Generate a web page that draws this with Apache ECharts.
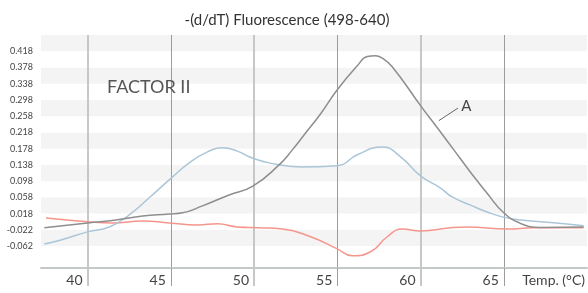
<!DOCTYPE html>
<html lang="en">
<head>
    <meta charset="UTF-8">
    <title>-(d/dT) Fluorescence (498-640)</title>
    <script src="https://cdn.jsdelivr.net/npm/echarts@6/dist/echarts.min.js"></script>
    <style>
        html, body { margin: 0; padding: 0; background: #fff; }
        #chart { width: 588px; height: 293px; }
    </style>
</head>
<body>
    <div id="chart"></div>
    <script>
        // melt curve data: [temperature, -(d/dT) fluorescence]
        const curveA = [
            [37.4, -0.017], [40.0, -0.005], [41.7, 0.002], [43.3, 0.012], [44.9, 0.017],
            [45.7, 0.020], [46.9, 0.037], [48.5, 0.064], [49.9, 0.085], [51.5, 0.138],
            [52.3, 0.175], [53.2, 0.222], [54.0, 0.264], [55.0, 0.323], [56.2, 0.382],
            [56.8, 0.405], [57.3, 0.407], [57.7, 0.401], [58.3, 0.380], [60.0, 0.284],
            [61.2, 0.219], [62.0, 0.175], [63.0, 0.120], [64.0, 0.068], [65.0, 0.020],
            [66.0, -0.006], [67.2, -0.016], [69.8, -0.015]
        ];
        const curveBlue = [
            [37.4, -0.057], [38.4, -0.047], [40.0, -0.027], [41.3, -0.015], [42.5, 0.015],
            [43.7, 0.057], [44.9, 0.101], [46.1, 0.143], [47.2, 0.170], [48.1, 0.180],
            [49.0, 0.172], [49.7, 0.158], [50.9, 0.143], [52.8, 0.133], [55.0, 0.136],
            [56.2, 0.163], [57.7, 0.182], [58.8, 0.158], [60.0, 0.111], [61.2, 0.081],
            [61.9, 0.059], [63.0, 0.039], [64.0, 0.022], [64.9, 0.010], [66.0, 0.002],
            [67.8, -0.004], [69.8, -0.012]
        ];
        const curveRed = [
            [37.5, 0.007], [40.0, -0.002], [41.5, -0.005], [43.3, 0.000], [44.9, -0.005],
            [46.6, -0.010], [47.8, -0.007], [49.0, -0.015], [50.3, -0.017], [51.7, -0.020],
            [53.4, -0.039], [55.0, -0.069], [55.9, -0.086], [57.0, -0.076], [58.0, -0.039],
            [58.9, -0.020], [60.0, -0.025], [61.8, -0.017], [62.8, -0.015], [65.2, -0.020],
            [66.8, -0.017], [69.8, -0.017]
        ];

        const xLabels = [40, 45, 50, 55, 60, 65];
        const xLightLines = [40, 50, 60];
        const xDarkLines = [45, 55, 65];
        const yLabels = [-0.062, -0.022, 0.018, 0.058, 0.098, 0.138, 0.178, 0.218,
                         0.258, 0.298, 0.338, 0.378, 0.418];
        const yBands = [-0.116].concat(yLabels, [0.458]);
        const xMin = 37.2, xMax = 70;
        const yMin = -0.116, yMax = 0.458;

        // leader line for the "A" label
        const leaderA = [[61.1, 0.247], [62.25, 0.278]];

        const chart = echarts.init(document.getElementById('chart'));
        const font = 'Lato, sans-serif';

        const option = {
            animation: false,
            textStyle: { fontFamily: font },
            grid: { left: 41, right: 1, top: 35, bottom: 25 },
            xAxis: [
                {
                    type: 'value', min: xMin, max: xMax, position: 'bottom',
                    axisLine: { show: true, onZero: false, lineStyle: { color: '#c4c8c8', width: 2 } },
                    axisTick: { show: true, customValues: xLightLines, length: 18,
                                lineStyle: { color: '#c4c8c8', width: 2 } },
                    splitLine: { show: true, lineStyle: { color: '#c4c8c8', width: 2 } },
                    axisLabel: { customValues: xLabels, align: 'right', margin: 5,
                                 padding: [0, 5, 0, 0],
                                 color: '#444', fontSize: 14, fontFamily: font }
                },
                {
                    type: 'value', min: xMin, max: xMax, position: 'bottom',
                    axisLine: { show: false, onZero: false },
                    axisTick: { show: true, customValues: xDarkLines, length: 18,
                                lineStyle: { color: '#9c9c9c', width: 1 } },
                    splitLine: { show: true, lineStyle: { color: '#9c9c9c', width: 1 } },
                    axisLabel: { show: false }
                }
            ],
            yAxis: {
                type: 'value', min: yMin, max: yMax,
                axisLine: { show: false },
                axisTick: { show: false, customValues: yBands },
                splitLine: { show: false },
                splitArea: { show: true, areaStyle: { color: ['#ffffff', '#f4f4f4'] } },
                axisLabel: { customValues: yLabels, margin: 8, color: '#444',
                             fontSize: 9, fontFamily: font }
            },
            series: [
                {
                    type: 'line', data: curveRed, smooth: true, showSymbol: false,
                    lineStyle: { color: '#f5968d', width: 1.5 }
                },
                {
                    type: 'line', data: curveBlue, smooth: true, showSymbol: false,
                    lineStyle: { color: '#abc6d8', width: 1.5 }
                },
                {
                    type: 'line', data: curveA, smooth: true, showSymbol: false,
                    lineStyle: { color: '#8e8e8e', width: 1.5 },
                    markLine: {
                        silent: true, symbol: 'none', animation: false,
                        lineStyle: { color: '#666', width: 1, type: 'solid' },
                        label: { show: true, position: 'end', formatter: 'A',
                                 color: '#444', fontSize: 15, fontFamily: font, distance: 4 },
                        data: [[{ coord: leaderA[0] }, { coord: leaderA[1] }]]
                    }
                }
            ],
            graphic: [
                { type: 'text', x: 287, y: 20, z: 100,
                  style: { text: '-(d/dT) Fluorescence (498-640)', fontSize: 15, fontFamily: font,
                           fill: '#333', align: 'center', verticalAlign: 'middle' } },
                { type: 'text', x: 107, y: 87, z: 100,
                  style: { text: 'FACTOR II', fontSize: 18, fontFamily: font,
                           fill: '#555', align: 'left', verticalAlign: 'middle' } },
                { type: 'text', x: 585, y: 280, z: 100,
                  style: { text: 'Temp. (°C)', fontSize: 14, fontFamily: font,
                           fill: '#444', align: 'right', verticalAlign: 'middle' } }
            ]
        };

        chart.setOption(option);
    </script>
</body>
</html>
